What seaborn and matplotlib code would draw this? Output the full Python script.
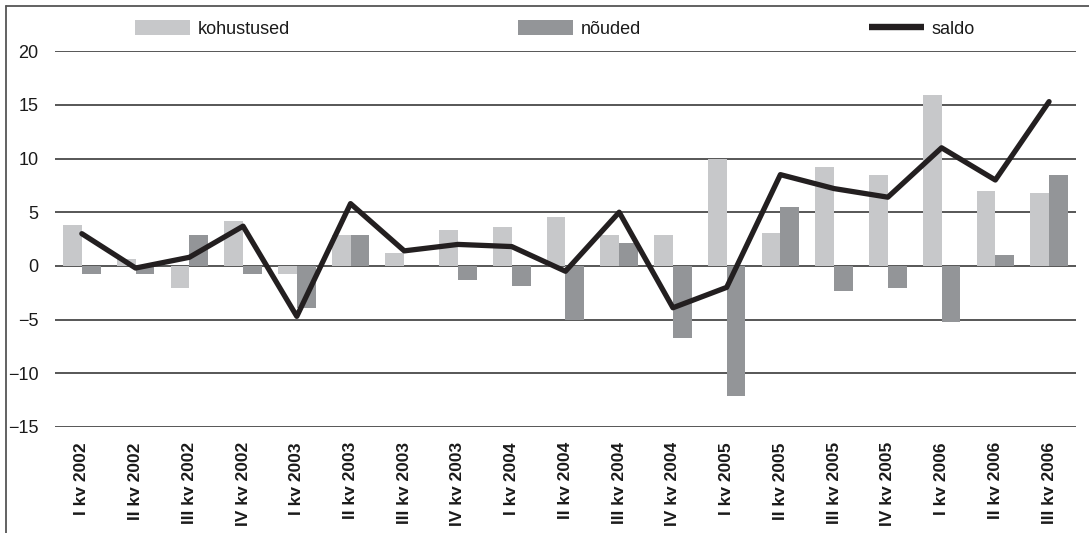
import matplotlib
matplotlib.use("Agg")
import matplotlib.pyplot as plt
from matplotlib.lines import Line2D
import numpy as np
import pandas as pd
import seaborn as sns

QUARTERS = [
    "I kv 2002", "II kv 2002", "III kv 2002", "IV kv 2002",
    "I kv 2003", "II kv 2003", "III kv 2003", "IV kv 2003",
    "I kv 2004", "II kv 2004", "III kv 2004", "IV kv 2004",
    "I kv 2005", "II kv 2005", "III kv 2005", "IV kv 2005",
    "I kv 2006", "II kv 2006", "III kv 2006",
]
KOHUSTUSED = [3.8, 0.6, -2.1, 4.2, -0.8, 2.9, 1.2, 3.3, 3.6, 4.6,
              2.9, 2.9, 10.0, 3.1, 9.2, 8.5, 15.9, 7.0, 6.8]
NOUDED = [-0.8, -0.8, 2.9, -0.8, -3.9, 2.9, 0.0, -1.3, -1.9, -5.0,
          2.1, -6.7, -12.1, 5.5, -2.3, -2.1, -5.2, 1.0, 8.5]
SALDO = [3.0, -0.2, 0.8, 3.7, -4.7, 5.8, 1.4, 2.0, 1.8, -0.5,
         5.0, -3.9, -2.0, 8.5, 7.2, 6.4, 11.0, 8.0, 15.3]
Y_TICKS = [-15, -10, -5, 0, 5, 10, 15, 20]

LIGHT = "#c7c8ca"
DARK = "#939598"
LINE = "#231f20"
GRID = "#3a3a3a"

sns.set_theme(style="white")
plt.rcParams["font.family"] = ["Liberation Sans", "DejaVu Sans"]

bars = pd.DataFrame({
    "quarter": QUARTERS * 2,
    "series": ["kohustused"] * len(QUARTERS) + ["nõuded"] * len(QUARTERS),
    "value": KOHUSTUSED + NOUDED,
})

fig = plt.figure(figsize=(10.89, 5.33), dpi=100)
ax = fig.add_axes([0.0505, 0.199, 0.9375, 0.705])

sns.barplot(data=bars, x="quarter", y="value", hue="series",
            order=QUARTERS, palette=[LIGHT, DARK], width=0.7,
            saturation=1, errorbar=None, linewidth=0, ax=ax, zorder=3)
sns.lineplot(x=np.arange(len(SALDO)), y=SALDO, color=LINE, lw=3.8,
             ax=ax, zorder=4, label="saldo")

ax.set_ylim(-15, 20)
ax.set_xlim(-0.5, len(QUARTERS) - 0.5)
ax.set_yticks(Y_TICKS)
for t in Y_TICKS:
    ax.axhline(t, color=GRID, lw=1.2, zorder=1)
ax.grid(False)
for s in ax.spines.values():
    s.set_visible(False)
ax.set_xlabel("")
ax.set_ylabel("")
ax.tick_params(axis="y", length=0, pad=12, labelsize=13, labelcolor="#1a1a1a")
ax.tick_params(axis="x", length=0, pad=11)
ax.set_xticks(range(len(QUARTERS)))
ax.set_xticklabels(QUARTERS, rotation=90, fontsize=12.5, fontweight="bold",
                   color="#1a1a1a")

handles, labels = ax.get_legend_handles_labels()
leg = ax.legend(handles, labels, ncol=3, loc="center left",
                bbox_to_anchor=(0.071, 1.059), frameon=False, fontsize=13,
                handlelength=3.05, handleheight=0.85, handletextpad=0.45,
                columnspacing=12.6, borderaxespad=0, labelcolor="#1a1a1a")
leg_line = leg.get_lines()[0]
leg_line.set_linewidth(4.6)
leg_line.set_solid_capstyle("butt")

# frame around the figure (top and left edges remain visible)
fig.add_artist(Line2D([6 / 1089, 1], [1 - 5.5 / 533] * 2,
                      transform=fig.transFigure, color="#555555", lw=1.3))
fig.add_artist(Line2D([6 / 1089] * 2, [0, 1 - 5.5 / 533],
                      transform=fig.transFigure, color="#555555", lw=1.3))

fig.savefig("out.png", dpi=100)
